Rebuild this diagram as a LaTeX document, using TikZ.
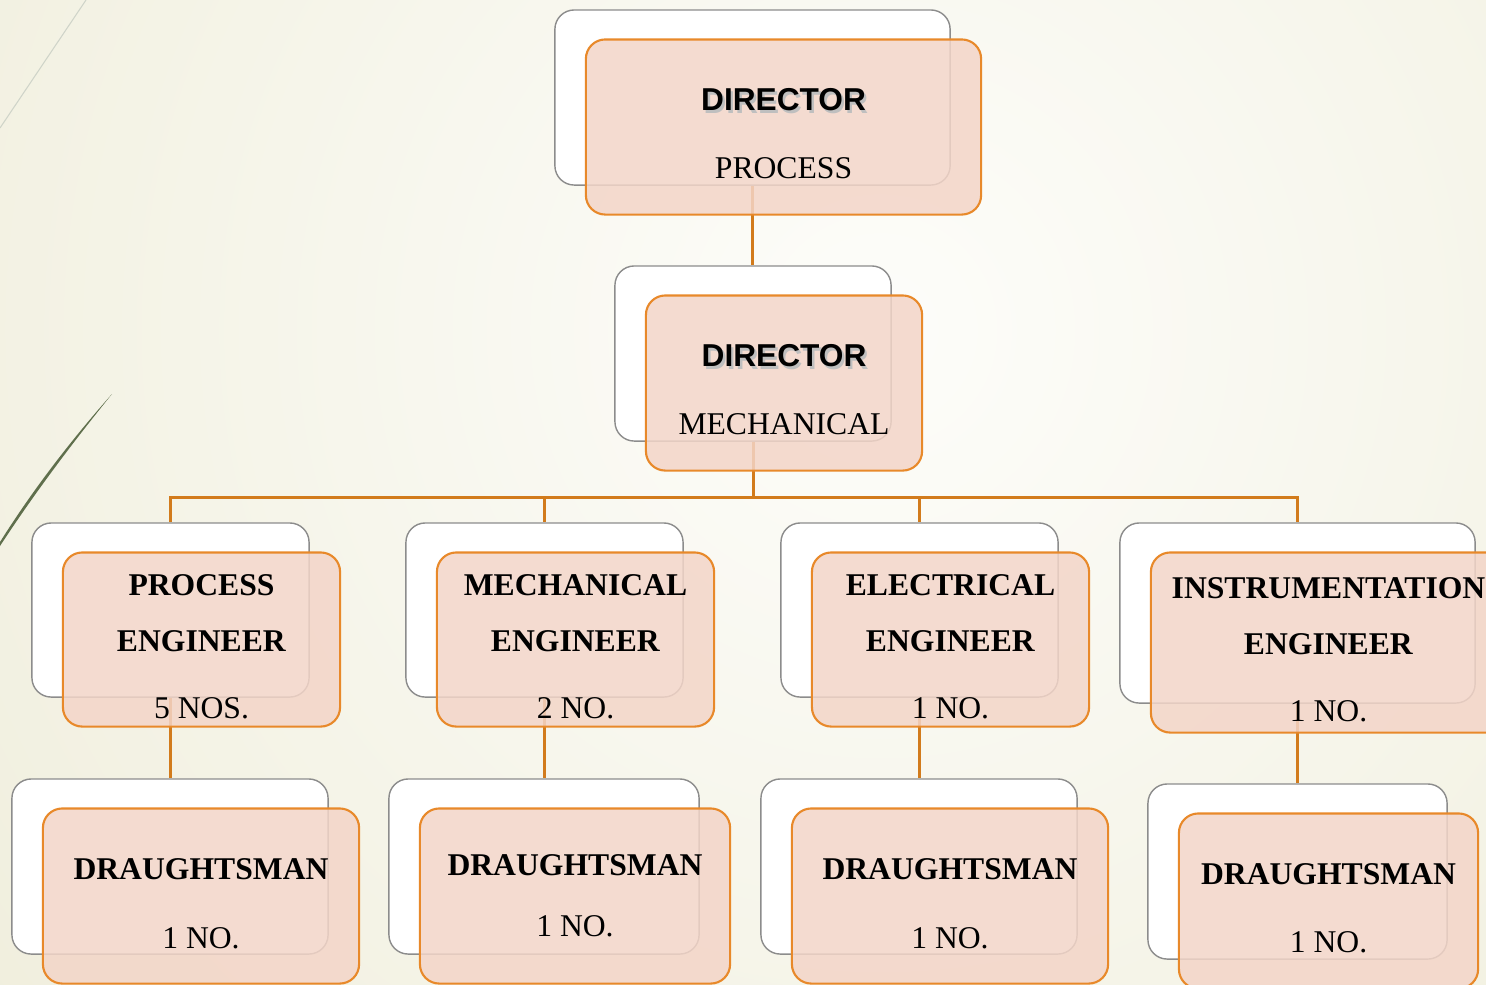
\documentclass[tikz,border=0pt]{standalone}
\usepackage{fontspec}
\setmainfont{Liberation Serif}
\newfontfamily\headfont{Liberation Sans}
\usepackage{xcolor}
\usetikzlibrary{calc}
\definecolor{boxfill}{HTML}{F3D5C8}
\definecolor{boxline}{HTML}{E8892A}
\definecolor{linkcol}{HTML}{D27B1C}
\definecolor{bgin}{HTML}{FDFDFA}
\definecolor{bgout}{HTML}{EDEBD6}
\definecolor{leaf}{HTML}{5F6F4C}
\pgfdeclarelayer{bg}
\pgfdeclarelayer{links}
\pgfsetlayers{bg,links,main}
\newcommand\topstrut[1]{\rule{0pt}{#1}}
\newcommand\shadowtext[1]{\makebox[0pt][l]{\hspace{0.7pt}\raisebox{-0.7pt}{\textcolor{black!25}{#1}}}#1}
\tikzset{
  backbox/.style={draw=black!45,line width=0.4pt,fill=white,rounded corners=5.5pt,inner sep=0pt},
  frontbox/.style={draw=boxline,line width=0.6pt,fill=boxfill,fill opacity=0.85,draw opacity=1,text opacity=1,rounded corners=5.5pt,inner sep=0pt,align=center,font=\fontsize{9}{11}\selectfont},
  link/.style={draw=linkcol,line width=0.85pt},
  head/.style={font=\headfont\bfseries}
}
\begin{document}
\begin{tikzpicture}[x=0.01cm,y=-0.01cm]
  \useasboundingbox (0,0) rectangle (1486,984);
  \begin{pgfonlayer}{bg}
    \begin{scope}
      \clip (0,0) rectangle (1486,984);
      \shade[inner color=bgin,outer color=bgout] (880,330) circle (1400);
      \draw[color=leaf!30,line width=0.3pt] (86,0) -- (0,128);
      \fill[leaf] (112,394) .. controls (74,441) and (36,491) .. (0,546)
        -- (0,542) .. controls (34,488) and (72,439) .. (112,394) -- cycle;
    \end{scope}
  \end{pgfonlayer}

  % directors
  \node[backbox,minimum width=3.95cm,minimum height=1.75cm] (dp0) at (752.5,97.5) {};
  \node[frontbox,minimum width=3.95cm,minimum height=1.75cm] (dp) at ([shift={(31,29.5)}]dp0)
    {\topstrut{10.1pt}\headfont\bfseries\shadowtext{DIRECTOR}\\[8.3pt]PROCESS};
  \node[backbox,minimum width=2.76cm,minimum height=1.75cm] (dm0) at (753,353.5) {};
  \node[frontbox,minimum width=2.76cm,minimum height=1.75cm] (dm) at ([shift={(31,29.5)}]dm0)
    {\topstrut{10.1pt}\headfont\bfseries\shadowtext{DIRECTOR}\\[8.3pt]MECHANICAL};

  % engineers
  \node[backbox,minimum width=2.77cm,minimum height=1.74cm] (pe0) at (170.5,610) {};
  \node[frontbox,minimum width=2.77cm,minimum height=1.74cm] (pe) at ([shift={(31,29.5)}]pe0)
    {\topstrut{10pt}\textbf{PROCESS}\\[4.9pt]\textbf{ENGINEER}\\[8.1pt]5 NOS.};
  \node[backbox,minimum width=2.77cm,minimum height=1.74cm] (me0) at (544.5,610) {};
  \node[frontbox,minimum width=2.77cm,minimum height=1.74cm] (me) at ([shift={(31,29.5)}]me0)
    {\topstrut{10pt}\textbf{MECHANICAL}\\[4.9pt]\textbf{ENGINEER}\\[8.1pt]2 NO.};
  \node[backbox,minimum width=2.77cm,minimum height=1.74cm] (ee0) at (919.5,610) {};
  \node[frontbox,minimum width=2.77cm,minimum height=1.74cm] (ee) at ([shift={(31,29.5)}]ee0)
    {\topstrut{10pt}\textbf{ELECTRICAL}\\[4.9pt]\textbf{ENGINEER}\\[8.1pt]1 NO.};
  \node[backbox,minimum width=3.55cm,minimum height=1.80cm] (ie0) at (1297.5,613) {};
  \node[frontbox,minimum width=3.55cm,minimum height=1.80cm] (ie) at ([shift={(31,29.5)}]ie0)
    {\topstrut{10pt}\textbf{INSTRUMENTATION}\\[4.9pt]\textbf{ENGINEER}\\[8.1pt]1 NO.};

  % draughtsmen
  \node[backbox,minimum width=3.16cm,minimum height=1.75cm] (pd0) at (170,866.5) {};
  \node[frontbox,minimum width=3.16cm,minimum height=1.75cm] (pd) at ([shift={(31,29.5)}]pd0)
    {\topstrut{10.2pt}\textbf{DRAUGHTSMAN}\\[8.6pt]1 NO.};
  \node[backbox,minimum width=3.10cm,minimum height=1.75cm] (md0) at (544,866.5) {};
  \node[frontbox,minimum width=3.10cm,minimum height=1.75cm] (md) at ([shift={(31,29.5)}]md0)
    {\topstrut{6pt}\textbf{DRAUGHTSMAN}\\[6.4pt]1 NO.};
  \node[backbox,minimum width=3.16cm,minimum height=1.75cm] (ed0) at (919,866.5) {};
  \node[frontbox,minimum width=3.16cm,minimum height=1.75cm] (ed) at ([shift={(31,29.5)}]ed0)
    {\topstrut{10.2pt}\textbf{DRAUGHTSMAN}\\[8.6pt]1 NO.};
  \node[backbox,minimum width=2.99cm,minimum height=1.75cm] (id0) at (1297.5,871.5) {};
  \node[frontbox,minimum width=2.99cm,minimum height=1.75cm] (id) at ([shift={(31,29.5)}]id0)
    {\topstrut{10.2pt}\textbf{DRAUGHTSMAN}\\[8.4pt]1 NO.};

  % connectors
  \coordinate (bus) at (753,497);
  \begin{pgfonlayer}{links}
    \draw[link] (dp0.south) -- (dp0.south |- dm0.north);
    \draw[link] (dm0.south) -- (bus);
    \foreach \n in {pe,me,ee,ie}
      \draw[link] (bus) -| (\n0.north);
    \draw[link] (pe0.south) -- (pe0.south |- pd0.north);
    \draw[link] (me0.south) -- (me0.south |- md0.north);
    \draw[link] (ee0.south) -- (ee0.south |- ed0.north);
    \draw[link] (ie0.south) -- (ie0.south |- id0.north);
  \end{pgfonlayer}
\end{tikzpicture}
\end{document}
